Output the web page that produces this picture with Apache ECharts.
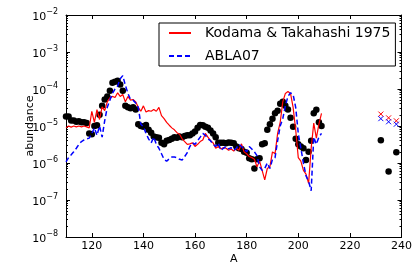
<!DOCTYPE html>
<html><head><meta charset="utf-8">
<script src="https://cdn.jsdelivr.net/npm/echarts@6/dist/echarts.min.js"></script>
<style>html,body{margin:0;padding:0;background:#fff}#c{width:415px;height:280px}</style>
</head><body><div id="c"></div>
<script>
// Mass numbers for the model curves
const massNumbers = [110,111,112,113,114,115,116,117,118,119,120,121,122,123,124,125,126,127,128,129,
  130,131,132,133,134,135,136,137,138,139,140,141,142,143,144,145,146,147,148,149,
  150,151,152,153,154,155,156,157,158,159,160,161,162,163,164,165,166,167,168,169,
  170,171,172,173,174,175,176,177,178,179,180,181,182,183,184,185,186,187,188,189,
  190,191,192,193,194,195,196,197,198,199,200,201,202,203,204,205,206,207,208,209];

// Kodama & Takahashi 1975
const kodama = [8.9e-6,1.0e-5,9.3e-6,1.0e-5,9.5e-6,1.0e-5,9.5e-6,1.0e-5,9.5e-6,8.9e-6,
  2.5e-5,1.26e-5,2.75e-5,1.5e-5,3.3e-5,2.6e-5,4.5e-5,5.75e-5,6.3e-5,5.9e-5,
  7.9e-5,6.3e-5,7.1e-5,4.5e-5,6.3e-5,5.0e-5,5.2e-5,4.5e-5,3.2e-5,2.5e-5,
  3.5e-5,2.4e-5,2.6e-5,2.5e-5,2.8e-5,2.5e-5,3.2e-5,1.9e-5,1.58e-5,1.26e-5,
  1.05e-5,8.9e-6,7.9e-6,6.6e-6,6.0e-6,4.5e-6,3.8e-6,3.2e-6,3.3e-6,3.5e-6,
  2.8e-6,3.2e-6,3.8e-6,4.2e-6,6.3e-6,5.0e-6,4.0e-6,3.5e-6,2.5e-6,2.8e-6,
  2.4e-6,2.6e-6,2.5e-6,2.2e-6,2.4e-6,2.1e-6,2.5e-6,2.2e-6,3.3e-6,2.0e-6,
  1.78e-6,1.5e-6,1.4e-6,1.26e-6,7.9e-7,1.12e-6,6.3e-7,3.5e-7,7.1e-7,7.9e-7,
  2.0e-6,1.78e-6,6.3e-6,1.26e-5,4.5e-5,7.6e-5,8.5e-5,7.6e-5,3.2e-5,7.9e-6,
  1.4e-6,1.12e-6,6.3e-7,5.0e-7,2.8e-7,2.5e-6,1.2e-5,4.7e-6,1.12e-5,2.2e-5];

// ABLA07
const abla07 = [1.07e-6,1.4e-6,1.66e-6,2.0e-6,2.5e-6,3.2e-6,3.8e-6,4.2e-6,4.5e-6,4.7e-6,
  6.3e-6,8.9e-6,5.6e-6,1.0e-5,5.0e-6,1.4e-5,3.2e-5,5.0e-5,7.6e-5,1.0e-4,
  1.2e-4,1.9e-4,2.3e-4,1.26e-4,7.6e-5,5.2e-5,5.0e-5,4.2e-5,3.2e-5,1.12e-5,
  9.5e-6,6.3e-6,4.5e-6,3.5e-6,5.0e-6,3.2e-6,2.5e-6,1.78e-6,1.26e-6,1.12e-6,
  1.3e-6,1.45e-6,1.45e-6,1.4e-6,1.26e-6,1.2e-6,1.5e-6,1.9e-6,2.8e-6,3.5e-6,
  3.2e-6,4.0e-6,5.0e-6,6.3e-6,5.6e-6,4.5e-6,4.0e-6,3.2e-6,2.8e-6,3.5e-6,
  2.2e-6,2.5e-6,2.8e-6,2.4e-6,2.6e-6,2.2e-6,2.5e-6,3.2e-6,2.8e-6,2.4e-6,
  2.0e-6,2.8e-6,2.4e-6,2.0e-6,1.58e-6,7.9e-7,6.3e-7,7.1e-7,1.0e-6,7.1e-7,
  1.26e-6,1.4e-6,4.0e-6,1.0e-5,1.58e-5,3.5e-5,6.3e-5,7.9e-5,7.1e-5,3.2e-5,
  6.3e-6,2.5e-6,1.0e-6,4.5e-7,3.2e-7,1.78e-7,5.0e-6,3.2e-6,5.0e-6,6.3e-6];

// Observed (solar r-process) abundances: black dots
const solarA = [110,111,112,113,114,115,116,117,118,119,120,121,122,123,124,125,126,127,128,129,
  130,131,132,133,134,135,136,137,138,139,140,141,142,143,144,145,146,147,148,149,
  150,151,152,153,154,155,156,157,158,159,160,161,162,163,164,165,166,167,168,169,
  170,171,172,173,174,175,176,177,178,179,180,181,182,183,184,185,186,187,188,189,
  190,191,192,193,194,195,196,197,198,199,200,201,202,203,204,205,206,207,208,209,
  232,235,238];
const solarAbund = [1.8e-5,1.8e-5,1.4e-5,1.4e-5,1.3e-5,1.35e-5,1.26e-5,1.26e-5,1.2e-5,6.3e-6,
  6.0e-6,1.0e-5,1.05e-5,2.0e-5,3.5e-5,5.2e-5,6.3e-5,8.9e-5,1.48e-4,1.58e-4,
  1.66e-4,1.32e-4,8.9e-5,3.5e-5,3.2e-5,3.0e-5,3.2e-5,2.8e-5,1.12e-5,1.0e-5,
  9.5e-6,1.07e-5,7.9e-6,6.6e-6,5.2e-6,5.0e-6,4.8e-6,3.5e-6,3.2e-6,4.0e-6,
  4.2e-6,4.5e-6,5.0e-6,4.8e-6,5.2e-6,5.0e-6,5.4e-6,5.6e-6,5.6e-6,6.3e-6,
  7.1e-6,8.9e-6,1.07e-5,1.05e-5,9.5e-6,8.9e-6,7.6e-6,6.3e-6,5.0e-6,3.5e-6,
  3.5e-6,3.5e-6,3.4e-6,3.6e-6,3.5e-6,3.4e-6,2.8e-6,2.5e-6,2.4e-6,2.0e-6,
  1.9e-6,1.35e-6,1.26e-6,7.1e-7,1.26e-6,1.35e-6,3.2e-6,3.4e-6,7.9e-6,1.12e-5,
  1.58e-5,2.2e-5,2.6e-5,4.0e-5,4.5e-5,3.5e-5,2.8e-5,1.66e-5,9.5e-6,4.5e-6,
  3.2e-6,2.8e-6,2.5e-6,1.2e-6,2.0e-6,4.0e-6,2.2e-5,2.75e-5,1.26e-5,1.0e-5,
  4.1e-6,5.9e-7,1.95e-6];

// Actinides (crosses)
const actinideA = [232,235,238];
const kodamaActinides = [2.1e-5,1.66e-5,1.38e-5];
const ablaActinides = [1.58e-5,1.3e-5,1.12e-5];

// Axis ticks
const xTicks = [120,140,160,180,200,220,240];
const minorLogTicks = [];
for (let n = -8; n < -2; n++) for (let k = 2; k <= 9; k++) minorLogTicks.push(n + Math.log10(k));

const FONT = 'DejaVu Sans';
const pairs = (xs, ys) => xs.map((x, i) => [x, ys[i]]);
const cross = 'path://M0,0L10,10M10,0L0,10';

const chart = echarts.init(document.getElementById('c'), null, {renderer: 'canvas'});
const hidden = {show: false};
const yValBase = {type: 'value', min: -8, max: -2, axisLabel: hidden, splitLine: hidden};
chart.setOption({
  animation: false,
  backgroundColor: '#fff',
  textStyle: {fontFamily: FONT},
  grid: {left: 66, right: 12, top: 15, bottom: 43},
  legend: {
    data: ['Kodama & Takahashi 1975', 'ABLA07'],
    orient: 'vertical', left: 159, top: 23,
    itemWidth: 22, itemHeight: 14, itemGap: 9,
    padding: [3, 5, 3, 9],
    borderColor: '#000', borderWidth: 1, borderRadius: 0, backgroundColor: '#fff',
    itemStyle: {opacity: 0},
    textStyle: {fontFamily: FONT, fontSize: 14, color: '#000', padding: [0, 0, 0, 9]}
  },
  xAxis: [
    {type: 'value', min: 110, max: 240, position: 'bottom',
     name: 'A', nameLocation: 'middle', nameGap: 17, nameMoveOverlap: false,
     nameTextStyle: {fontFamily: FONT, fontSize: 11, color: '#000'},
     axisLine: {show: true, lineStyle: {color: '#000', width: 1}},
     axisTick: {show: true, inside: true, length: 4, customValues: xTicks, lineStyle: {color: '#000'}},
     axisLabel: {customValues: xTicks, fontFamily: FONT, fontSize: 11, color: '#000', margin: 4},
     splitLine: hidden},
    {type: 'value', min: 110, max: 240, position: 'top',
     axisLine: {show: true, lineStyle: {color: '#000', width: 1}},
     axisTick: {show: true, inside: true, length: 4, customValues: xTicks, lineStyle: {color: '#000'}},
     axisLabel: hidden, splitLine: hidden}
  ],
  yAxis: [
    {type: 'log', min: 1e-8, max: 1e-2, position: 'left',
     name: 'abundance', nameLocation: 'middle', nameGap: 30, nameMoveOverlap: false,
     nameTextStyle: {fontFamily: FONT, fontSize: 11, color: '#000'},
     axisLine: {show: true, lineStyle: {color: '#000', width: 1}},
     axisTick: {show: true, inside: true, length: 4, lineStyle: {color: '#000'}},
     minorTick: hidden,
     axisLabel: {margin: 8, color: '#000',
       formatter: v => '{b|10}{s|\u2212' + Math.abs(Math.round(Math.log10(v))) + '}',
       rich: {b: {fontFamily: FONT, fontSize: 11, color: '#000', padding: [4, 0, 0, 0]},
              s: {fontFamily: FONT, fontSize: 8, color: '#000', verticalAlign: 'top'}}},
     splitLine: hidden},
    Object.assign({}, yValBase, {position: 'right', interval: 1,
     axisLine: {show: true, lineStyle: {color: '#000', width: 1}},
     axisTick: {show: true, inside: true, length: 4, lineStyle: {color: '#000'}}}),
    Object.assign({}, yValBase, {position: 'left', axisLine: hidden,
     axisTick: {show: true, inside: true, length: 2, customValues: minorLogTicks, lineStyle: {color: '#000'}}}),
    Object.assign({}, yValBase, {position: 'right', axisLine: hidden,
     axisTick: {show: true, inside: true, length: 2, customValues: minorLogTicks, lineStyle: {color: '#000'}}})
  ],
  series: [
    {name: 'solar', type: 'scatter', data: pairs(solarA, solarAbund),
     symbol: 'circle', symbolSize: 6.5, itemStyle: {color: '#000', opacity: 1}, z: 2},
    {name: 'Kodama & Takahashi 1975', type: 'line', data: pairs(massNumbers, kodama),
     showSymbol: false, symbol: 'none', lineStyle: {color: '#ff0000', width: 1.2},
     itemStyle: {color: '#ff0000'}, z: 3},
    {name: 'ABLA07', type: 'line', data: pairs(massNumbers, abla07),
     showSymbol: false, symbol: 'none', lineStyle: {color: '#0000ff', width: 1.5, type: [5, 3]},
     itemStyle: {color: '#0000ff'}, z: 3},
    {name: 'Kodama actinides', type: 'scatter', data: pairs(actinideA, kodamaActinides),
     symbol: cross, symbolSize: 5,
     itemStyle: {color: 'rgba(0,0,0,0)', borderColor: '#ff0000', borderWidth: 1, opacity: 1}, z: 4},
    {name: 'ABLA07 actinides', type: 'scatter', data: pairs(actinideA, ablaActinides),
     symbol: cross, symbolSize: 5,
     itemStyle: {color: 'rgba(0,0,0,0)', borderColor: '#0000ff', borderWidth: 1, opacity: 1}, z: 4}
  ]
});
</script></body></html>
